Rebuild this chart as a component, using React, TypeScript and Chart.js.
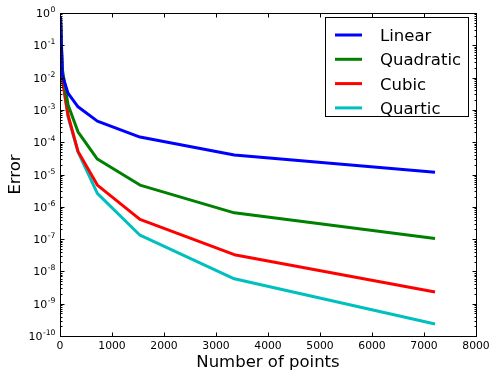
import React, { useEffect, useRef } from "react";
import { Chart, registerables } from "chart.js";

Chart.register(...registerables);

const X_POINTS = [9, 45, 154, 346, 718, 1538, 3352, 7212];
const LINEAR = [0.8, 1.2e-2, 3.3e-3, 1.25e-3, 4.5e-4, 1.44e-4, 4.0e-5, 1.18e-5];
const QUADRATIC = [0.8, 1.8e-2, 1.45e-3, 2.1e-4, 3.0e-5, 4.7e-6, 6.5e-7, 1.05e-7];
const CUBIC = [0.8, 9.5e-3, 7.0e-4, 5.2e-5, 4.7e-6, 4.1e-7, 3.3e-8, 2.3e-9];
const QUARTIC = [0.8, 9.0e-3, 6.1e-4, 5.0e-5, 2.6e-6, 1.32e-7, 5.9e-9, 2.35e-10];

const SERIES_NAMES = ["Linear", "Quadratic", "Cubic", "Quartic"];
const SERIES_COLORS = ["#0000ff", "#008000", "#ff0000", "#00bfbf"];

const X_TICKS = [0, 1000, 2000, 3000, 4000, 5000, 6000, 7000, 8000];
const Y_EXPONENTS = [0, -1, -2, -3, -4, -5, -6, -7, -8, -9, -10];

const X_TITLE = "Number of points";
const Y_TITLE = "Error";

const FONT = "'DejaVu Sans', sans-serif";

const framePlugin = {
  id: "mplFrame",
  afterDatasetsDraw(chart: any) {
    const ctx = chart.ctx as CanvasRenderingContext2D;
    const area = chart.chartArea;
    const xs = chart.scales.x;
    const ys = chart.scales.y;
    const L = Math.round(area.left) + 0.5;
    const R = Math.round(area.right) + 0.5;
    const T = Math.round(area.top) + 0.5;
    const B = Math.round(area.bottom) + 0.5;
    ctx.save();
    ctx.strokeStyle = "#000";
    ctx.lineWidth = 1;
    ctx.strokeRect(L, T, R - L, B - T);

    const major = 4;
    const minor = 2;
    ctx.beginPath();
    X_TICKS.forEach((v) => {
      const px = Math.round(xs.getPixelForValue(v)) + 0.5;
      ctx.moveTo(px, B);
      ctx.lineTo(px, B - major);
      ctx.moveTo(px, T);
      ctx.lineTo(px, T + major);
    });
    Y_EXPONENTS.forEach((e) => {
      const v = Math.pow(10, e);
      const py = Math.round(ys.getPixelForValue(v)) + 0.5;
      ctx.moveTo(L, py);
      ctx.lineTo(L + major, py);
      ctx.moveTo(R, py);
      ctx.lineTo(R - major, py);
      if (e > -10) {
        for (let k = 2; k <= 9; k++) {
          const mv = k * Math.pow(10, e - 1);
          const mp = Math.round(ys.getPixelForValue(mv)) + 0.5;
          ctx.moveTo(L, mp);
          ctx.lineTo(L + minor, mp);
          ctx.moveTo(R, mp);
          ctx.lineTo(R - minor, mp);
        }
      }
    });
    ctx.stroke();

    ctx.fillStyle = "#000";
    ctx.font = `10.8px ${FONT}`;
    ctx.textAlign = "center";
    ctx.textBaseline = "alphabetic";
    X_TICKS.forEach((v) => {
      const px = xs.getPixelForValue(v);
      ctx.fillText(String(v), px, B + 12.5);
    });

    const baseFont = `11px ${FONT}`;
    const supFont = `7.7px ${FONT}`;
    const rightEdge = L - 5;
    Y_EXPONENTS.forEach((e) => {
      const py = ys.getPixelForValue(Math.pow(10, e));
      const sup = e < 0 ? "-" + String(-e) : String(e);
      ctx.font = supFont;
      const wSup = ctx.measureText(sup).width;
      ctx.font = baseFont;
      const wBase = ctx.measureText("10").width;
      ctx.textAlign = "left";
      const x0 = rightEdge - wSup - wBase - 0.5;
      ctx.fillText("10", x0, py + 4);
      ctx.font = supFont;
      ctx.fillText(sup, x0 + wBase + 0.5, py - 1);
    });

    ctx.font = `16.5px ${FONT}`;
    ctx.textAlign = "center";
    ctx.fillText(X_TITLE, (area.left + area.right) / 2, 367);
    ctx.save();
    ctx.translate(20, (area.top + area.bottom) / 2);
    ctx.rotate(-Math.PI / 2);
    ctx.fillText(Y_TITLE, 0, 0);
    ctx.restore();

    const lx = 325.5;
    const ly = 17.5;
    const lw = 143;
    const lh = 99;
    ctx.fillStyle = "#fff";
    ctx.fillRect(lx, ly, lw, lh);
    ctx.strokeStyle = "#000";
    ctx.lineWidth = 1;
    ctx.strokeRect(lx, ly, lw, lh);
    ctx.font = `16.5px ${FONT}`;
    ctx.textAlign = "left";
    chart.data.datasets.forEach((ds: any, i: number) => {
      const rowY = 35 + i * 24.3;
      ctx.strokeStyle = ds.borderColor;
      ctx.lineWidth = 3;
      ctx.beginPath();
      ctx.moveTo(335, rowY);
      ctx.lineTo(362, rowY);
      ctx.stroke();
      ctx.fillStyle = "#000";
      ctx.fillText(ds.label, 380, rowY + 6);
    });
    ctx.restore();
  },
};

export default function App() {
  const ref = useRef<HTMLCanvasElement | null>(null);
  useEffect(() => {
    if (!ref.current) return;
    const seriesValues = [LINEAR, QUADRATIC, CUBIC, QUARTIC];
    const chart = new Chart(ref.current, {
      type: "line",
      data: {
        datasets: seriesValues.map((vals, i) => ({
          label: SERIES_NAMES[i],
          data: X_POINTS.map((x, j) => ({ x, y: vals[j] })),
          borderColor: SERIES_COLORS[i],
          backgroundColor: SERIES_COLORS[i],
          borderWidth: 3,
          pointRadius: 0,
          tension: 0,
          fill: false,
          borderJoinStyle: "round" as const,
          borderCapStyle: "butt" as const,
        })),
      },
      options: {
        responsive: false,
        animation: false,
        devicePixelRatio: 1,
        layout: { padding: { left: 60, top: 13, right: 16, bottom: 35 } },
        plugins: {
          legend: { display: false },
          tooltip: { enabled: false },
        },
        scales: {
          x: { type: "linear", min: 0, max: 8000, display: false },
          y: { type: "logarithmic", min: 1e-10, max: 1, display: false },
        },
      },
      plugins: [framePlugin],
    });
    return () => chart.destroy();
  }, []);
  return (
    <div style={{ position: "fixed", left: 0, top: 0, width: 492, height: 371, background: "#fff" }}>
      <canvas ref={ref} width={492} height={371} style={{ width: 492, height: 371, display: "block" }} />
    </div>
  );
}
